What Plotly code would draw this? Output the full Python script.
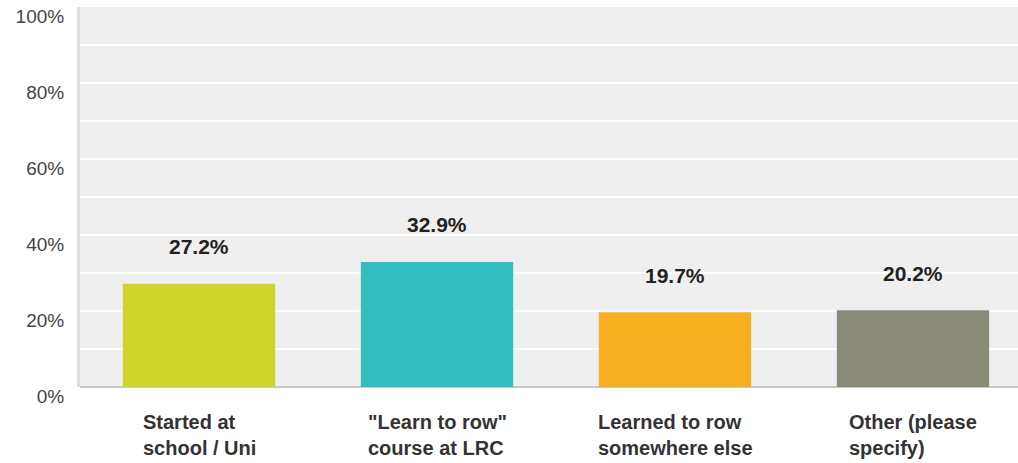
import plotly.graph_objects as go

categories = ["Started at<br>school / Uni", "\"Learn to row\"<br>course at LRC",
              "Learned to row<br>somewhere else", "Other (please<br>specify)"]
values = [27.2, 32.9, 19.7, 20.2]
value_labels = ["27.2%", "32.9%", "19.7%", "20.2%"]
colors = ["#cfd528", "#32bdbe", "#f6af20", "#898a78"]
y_ticks = [0, 20, 40, 60, 80, 100]
y_tick_text = ["0%", "20%", "40%", "60%", "80%", "100%"]

xs = list(range(len(categories)))

fig = go.Figure()
fig.add_trace(go.Bar(x=xs, y=values, marker=dict(color=colors, line=dict(width=0)),
                     width=0.64, hoverinfo="skip"))

for x, v, t in zip(xs, values, value_labels):
    fig.add_annotation(x=x, y=v, text="<b>%s</b>" % t, showarrow=False,
                       yanchor="middle", yshift=37,
                       font=dict(family="Liberation Sans, Arial", size=21, color="#222222"))

for x, c in zip(xs, categories):
    fig.add_annotation(x=x, y=0, yref="y", text="<b>%s</b>" % c, showarrow=False,
                       align="left", yanchor="top", yshift=-22,
                       font=dict(family="Liberation Sans, Arial", size=20, color="#333333"))

fig.update_layout(
    width=1018, height=463,
    margin=dict(l=80, r=0, t=7, b=76),
    paper_bgcolor="white", plot_bgcolor="#efefef",
    showlegend=False,
    xaxis=dict(range=[-0.5, -0.5 + 938 / 238], showticklabels=False, showgrid=False,
               zeroline=False, showline=False, fixedrange=True),
    yaxis=dict(range=[0, 100], tickvals=y_ticks, ticktext=y_tick_text,
               showgrid=True, gridcolor="white", gridwidth=2,
               minor=dict(dtick=10, showgrid=True, gridcolor="white", gridwidth=2),
               zeroline=True, zerolinecolor="#c8c8c8", zerolinewidth=2,
               showline=True, linecolor="#dddddd", linewidth=3,
               tickfont=dict(family="Liberation Sans, Arial", size=19, color="#444444"),
               ticklabelstandoff=9, ticklabelshift=9, fixedrange=True),
)

fig.write_html("out.html")
